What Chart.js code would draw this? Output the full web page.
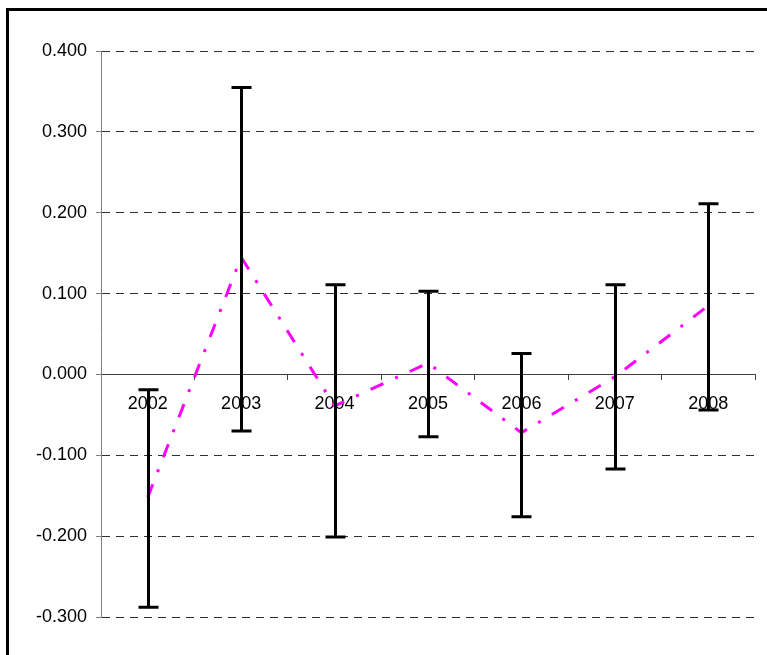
<!DOCTYPE html>
<html>
<head>
<meta charset="utf-8">
<script src="https://cdn.jsdelivr.net/npm/chart.js@4/dist/chart.umd.min.js"></script>
<style>
  html, body { margin: 0; padding: 0; background: #fff; }
  #wrap { width: 767px; height: 655px; position: relative; }
</style>
</head>
<body>
<div id="wrap"><canvas id="c" width="767" height="655"></canvas></div>
<script>
const categories = ['2002', '2003', '2004', '2005', '2006', '2007', '2008'];
const meanValues = [-0.152, 0.145, -0.039, 0.014, -0.072, -0.003, 0.085];
const errorHigh = [-0.019, 0.355, 0.111, 0.103, 0.026, 0.111, 0.211];
const errorLow = [-0.288, -0.070, -0.201, -0.077, -0.176, -0.117, -0.044];
const yTickMin = -0.3;
const yTickMax = 0.4;
const yTickStep = 0.1;

const framePlugin = {
  id: 'frame',
  beforeDraw(chart) {
    const ctx = chart.ctx;
    ctx.save();
    ctx.fillStyle = '#ffffff';
    ctx.fillRect(0, 0, chart.width, chart.height);
    ctx.strokeStyle = '#000000';
    ctx.lineWidth = 3;
    ctx.beginPath();
    ctx.moveTo(7.5, chart.height);
    ctx.lineTo(7.5, 9.5);
    ctx.lineTo(chart.width, 9.5);
    ctx.stroke();
    ctx.restore();
  }
};

const errorBarPlugin = {
  id: 'errorBars',
  afterDatasetsDraw(chart) {
    const ctx = chart.ctx;
    const xs = chart.scales.x;
    const ys = chart.scales.y;
    ctx.save();
    ctx.strokeStyle = '#000000';
    ctx.lineWidth = 3;
    ctx.lineCap = 'butt';
    for (let i = 0; i < categories.length; i++) {
      const x = Math.round(xs.getPixelForValue(i)) + 0.5;
      const yH = ys.getPixelForValue(errorHigh[i]);
      const yL = ys.getPixelForValue(errorLow[i]);
      ctx.beginPath();
      ctx.moveTo(x, yH);
      ctx.lineTo(x, yL);
      ctx.moveTo(x - 10, yH);
      ctx.lineTo(x + 10, yH);
      ctx.moveTo(x - 10, yL);
      ctx.lineTo(x + 10, yL);
      ctx.stroke();
    }
    ctx.restore();
  }
};

new Chart(document.getElementById('c'), {
  type: 'line',
  data: {
    labels: categories,
    datasets: [{
      label: 'Mean',
      data: meanValues,
      borderColor: '#FF00FF',
      borderWidth: 3,
      borderDash: [14, 13, 3, 13],
      pointRadius: 0,
      fill: false,
      tension: 0
    }]
  },
  options: {
    responsive: false,
    animation: false,
    devicePixelRatio: 1,
    layout: { padding: { left: 0, top: 51, right: 12, bottom: 38 } },
    plugins: { legend: { display: false }, tooltip: { enabled: false } },
    scales: {
      x: {
        type: 'category',
        position: { y: 0 },
        offset: true,
        grid: {
          offset: true,
          drawOnChartArea: false,
          drawTicks: true,
          tickLength: 5,
          color: '#404040',
          lineWidth: 1
        },
        border: { display: true, color: '#404040', width: 1 },
        ticks: {
          color: '#000000',
          padding: 14,
          maxRotation: 0,
          font: { family: 'Liberation Sans', size: 18 }
        }
      },
      y: {
        min: yTickMin,
        max: yTickMax,
        afterFit(scale) { scale.width = 101; },
        grid: {
          color: '#303030',
          lineWidth: 1,
          drawTicks: true,
          tickLength: 5,
          tickColor: '#808080',
          tickBorderDash: []
        },
        border: { display: true, color: '#808080', width: 1, dash: [8, 6] },
        ticks: {
          stepSize: yTickStep,
          color: '#000000',
          padding: 9,
          font: { family: 'Liberation Sans', size: 18 },
          callback: (v) => Number(v).toFixed(3)
        }
      }
    }
  },
  plugins: [framePlugin, errorBarPlugin]
});
</script>
</body>
</html>
